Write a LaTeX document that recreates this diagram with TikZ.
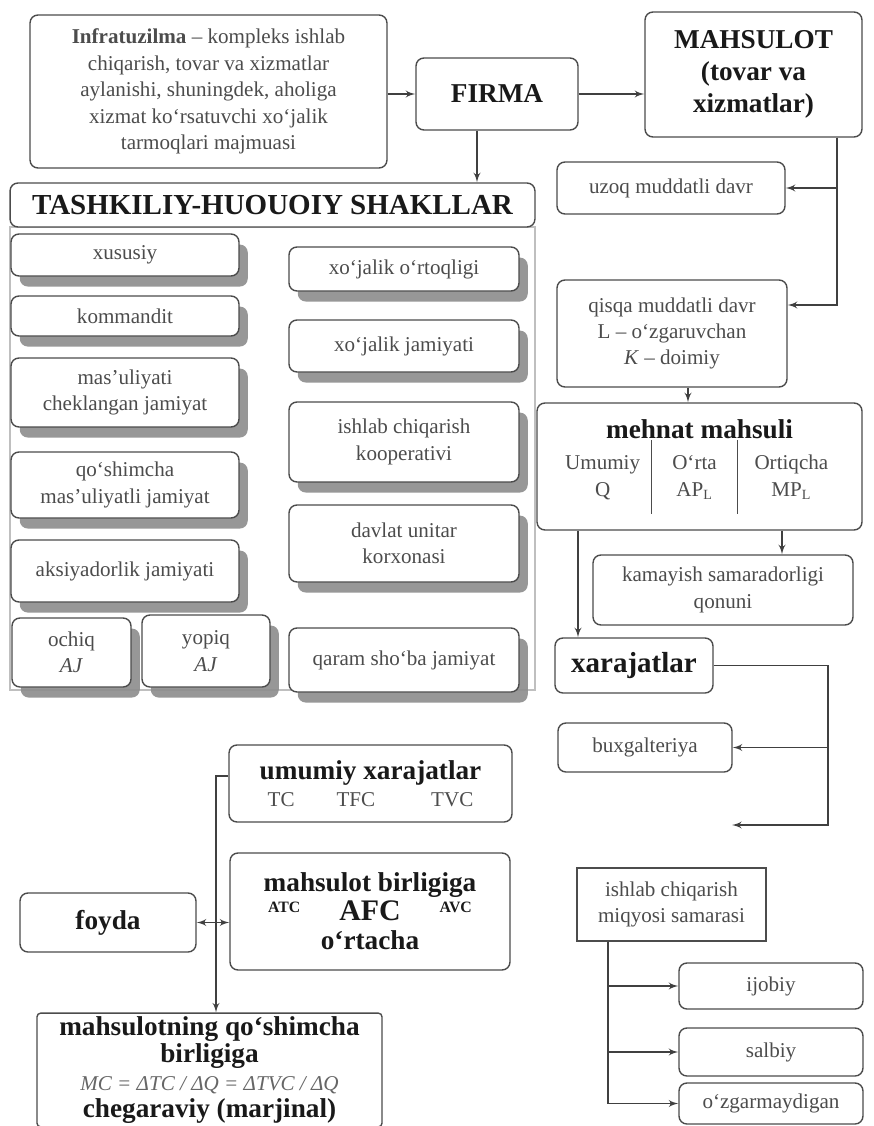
\documentclass[tikz,border=0pt]{standalone}
\usepackage{fontspec}
\setmainfont{Liberation Serif}
\usepackage{array}
\usepackage{tikz}
\usetikzlibrary{shapes,arrows,positioning,shadows}
\newcolumntype{C}[1]{>{\centering\arraybackslash}p{#1}}
\newcommand{\ttlfont}{\fontsize{15.5}{18}\selectfont\bfseries\color{black!90}}
\setlength{\arrayrulewidth}{0.8pt}

\begin{document}
\begin{tikzpicture}[x=0.02cm, y=-0.02cm, font=\fontsize{12}{15}\selectfont]
  \tikzstyle{box} = [rectangle, draw=black!70, line width=0.8pt, fill=white, rounded corners=4.5pt, align=center, text=black!70, inner sep=2pt]
  \tikzstyle{formbox} = [box, drop shadow={shadow xshift=5pt, shadow yshift=-6pt, fill=black!45, opacity=0.9}]
  \tikzstyle{sqbox} = [box, rounded corners=0pt]
  \tikzstyle{ttl} = [font=\fontsize{15.5}{18}\selectfont\bfseries, text=black!90]
  \tikzstyle{line} = [draw=black!75, line width=0.9pt, -latex']
  \tikzstyle{dline} = [line, latex'-latex']
  \useasboundingbox (0,0) rectangle (873,1126);

  % Top row
  \node[box, minimum width=7.14cm, minimum height=3.06cm] (infra) at (208.5,91.5) {\textbf{Infratuzilma} – kompleks ishlab\\ chiqarish, tovar va xizmatlar\\ aylanishi, shuningdek, aholiga\\ xizmat ko‘rsatuvchi xo‘jalik\\ tarmoqlari majmuasi};
  \node[box, ttl, minimum width=3.24cm, minimum height=1.44cm] (firma) at (497,94) {FIRMA};
  \node[box, ttl, minimum width=4.34cm, minimum height=2.5cm] (mahsulot) at (753.5,74.5) {MAHSULOT\\ (tovar va\\ xizmatlar)};

  % Legal forms
  \draw[black!25, line width=0.6pt] (10,227) rectangle (535,690);
  \node[box, ttl, font=\fontsize{16.5}{18}\selectfont\bfseries, minimum width=10.5cm, minimum height=0.88cm] (hdr) at (272.5,205) {TASHKILIY-HUOUOIY SHAKLLAR};
  \node[formbox, minimum width=4.56cm, minimum height=0.84cm] (xususiy) at (125,255) {xususiy};
  \node[formbox, minimum width=4.56cm, minimum height=0.8cm] (kommandit) at (125,316) {kommandit};
  \node[formbox, minimum width=4.56cm, minimum height=1.38cm] (masul) at (125,392.5) {mas’uliyati\\ cheklangan jamiyat};
  \node[formbox, minimum width=4.56cm, minimum height=1.32cm] (qoshim) at (125,485) {qo‘shimcha\\ mas’uliyatli jamiyat};
  \node[formbox, minimum width=4.56cm, minimum height=1.24cm] (aksiya) at (125,571) {aksiyadorlik jamiyati};
  \node[formbox, minimum width=2.38cm, minimum height=1.38cm] (ochiq) at (71.5,652.5) {ochiq\\ \textit{AJ}};
  \node[formbox, minimum width=2.56cm, minimum height=1.44cm] (yopiq) at (206,651) {yopiq\\ \textit{AJ}};
  \node[formbox, minimum width=4.6cm, minimum height=0.88cm] (xortoq) at (404,269) {xo‘jalik o‘rtoqligi};
  \node[formbox, minimum width=4.6cm, minimum height=1.04cm] (xjamiyat) at (404,346) {xo‘jalik jamiyati};
  \node[formbox, minimum width=4.6cm, minimum height=1.6cm] (koop) at (404,442) {ishlab chiqarish\\ kooperativi};
  \node[formbox, minimum width=4.6cm, minimum height=1.54cm] (davlat) at (404,543.5) {davlat unitar\\ korxonasi};
  \node[formbox, minimum width=4.6cm, minimum height=1.28cm] (qaram) at (404,660) {qaram sho‘ba jamiyat};

  % Production
  \node[box, minimum width=4.56cm, minimum height=1.04cm] (uzoq) at (671,188) {uzoq muddatli davr};
  \node[box, minimum width=4.6cm, minimum height=2.14cm] (qisqa) at (672,333.5) {qisqa muddatli davr\\ L – o‘zgaruvchan\\ \textit{K} – doimiy};
  \node[box, minimum width=6.5cm, minimum height=2.54cm] (mehnat) at (699.5,466.5) {{\ttlfont mehnat mahsuli}\\ \setlength{\tabcolsep}{0pt}\begin{tabular}{@{}C{1.92cm}|C{1.7cm}|C{2.12cm}@{}}\rule{0pt}{17pt}Umumiy & O‘rta & Ortiqcha\\ Q & AP\textsubscript{L} & MP\textsubscript{L}\rule[-10pt]{0pt}{10pt}\end{tabular}};
  \node[box, minimum width=5.2cm, minimum height=1.4cm] (kamayish) at (723,590) {kamayish samaradorligi\\ qonuni};
  \node[box, ttl, font=\fontsize{16.5}{18}\selectfont\bfseries, minimum width=3.16cm, minimum height=1.1cm] (xarajat) at (634,665.5) {xarajatlar};
  \node[box, minimum width=3.48cm, minimum height=0.98cm] (buxg) at (645,747.5) {buxgalteriya};

  % Costs
  \node[box, ttl, font=\fontsize{15.5}{15.5}\selectfont\bfseries, minimum width=5.66cm, minimum height=1.54cm] (umumiy) at (370.5,783.5) {umumiy xarajatlar\\ {\mdseries\fontsize{12}{15}\selectfont\color{black!70}TC\hspace{0.84cm}TFC\hspace{1.12cm}TVC}};
  \node[box, ttl, font=\fontsize{15.5}{16.5}\selectfont\bfseries, minimum width=5.6cm, minimum height=2.34cm] (birlik) at (370,911.5) {mahsulot birligiga\\ \raisebox{5pt}{\fontsize{9}{10}\selectfont ATC}\hspace{0.78cm}{\fontsize{17}{18}\selectfont AFC}\hspace{0.78cm}\raisebox{5pt}{\fontsize{9}{10}\selectfont AVC}\\ o‘rtacha};
  \node[box, ttl, minimum width=3.52cm, minimum height=1.18cm] (foyda) at (108,922.5) {foyda};
  \node[box, ttl, font=\fontsize{15.5}{15.5}\selectfont\bfseries, rounded corners=2pt, minimum width=6.9cm, minimum height=2.24cm] (qosh) at (209.5,1070) {mahsulotning qo‘shimcha\\ birligiga\\ {\mdseries\itshape\fontsize{12}{15.5}\selectfont\color{black!60}MC = ΔTC / ΔQ = ΔTVC / ΔQ}\\ chegaraviy (marjinal)};

  % Scale effect
  \node[sqbox, minimum width=3.78cm, minimum height=1.46cm] (miqyos) at (671.5,904.5) {ishlab chiqarish\\ miqyosi samarasi};
  \node[box, minimum width=3.68cm, minimum height=0.92cm] (ijobiy) at (771,986) {ijobiy};
  \node[box, minimum width=3.68cm, minimum height=0.96cm] (salbiy) at (771,1052) {salbiy};
  \node[box, minimum width=3.68cm, minimum height=0.82cm] (ozgar) at (771,1103.5) {o‘zgarmaydigan};

  % Connectors
  \coordinate (fd) at (477,94);
  \coordinate (vr) at (837,305);
  \coordinate (qk) at (688,387);
  \coordinate (mk) at (782,530);
  \coordinate (mx) at (578,530);
  \coordinate (xr) at (828,825);
  \coordinate (xend) at (732,825);
  \coordinate (vl) at (216,776);
  \coordinate (sx) at (608,1103.5);

  \draw[line] (infra.east |- firma) -- (firma);
  \draw[line] (firma) -- (firma -| mahsulot.west);
  \draw[line] (firma.south -| fd) -- (hdr.north -| fd);
  \draw[line] (mahsulot.south -| vr) |- (uzoq);
  \draw[line] (mahsulot.south -| vr) -- (vr) -- (qisqa.east |- vr);
  \draw[line] (qisqa.south -| qk) -- (mehnat.north -| qk);
  \draw[line] (mehnat.south -| mk) -- (kamayish.north -| mk);
  \draw[line] (mehnat.south -| mx) -- (xarajat.north -| mx);
  \draw[line] (xarajat.east) -| (xr) -- (xend);
  \draw[line] (xarajat.east -| xr) |- (buxg);
  \draw[line] (umumiy.west |- vl) -- (vl) -- (qosh.north -| vl);
  \draw[dline] (foyda.east) -- (foyda.east -| birlik.west);
  \draw[line] (miqyos.south -| sx) |- (ijobiy);
  \draw[line] (miqyos.south -| sx) |- (salbiy);
  \draw[line] (miqyos.south -| sx) |- (ozgar);
\end{tikzpicture}
\end{document}
